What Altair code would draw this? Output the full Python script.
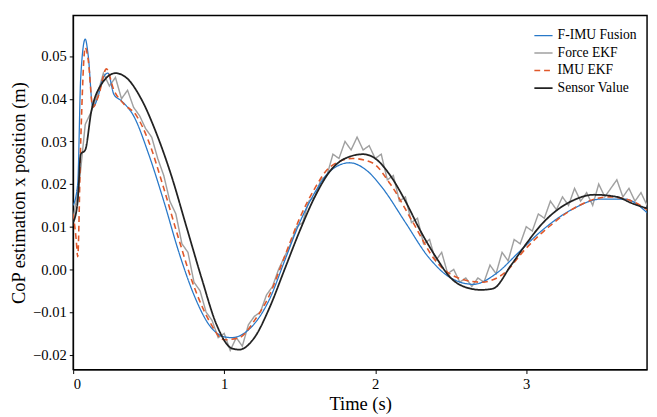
import altair as alt
import pandas as pd

# Sensor value (black)
sensor_t = [0, 0.03, 0.05, 0.08, 0.12, 0.18, 0.28, 0.35, 0.45, 0.55, 0.65, 0.75, 0.85, 0.95, 1.05, 1.1,
            1.2, 1.3, 1.4, 1.5, 1.6, 1.7, 1.8, 1.92, 2.0, 2.1, 2.2, 2.3, 2.4, 2.5, 2.6, 2.7, 2.78, 2.9,
            3.0, 3.1, 3.2, 3.3, 3.45, 3.6, 3.7, 3.8]
sensor_y = [0.011, 0.016, 0.027, 0.028, 0.037, 0.043, 0.046, 0.045, 0.040, 0.032, 0.022, 0.010, -0.002,
            -0.013, -0.0185, -0.0188, -0.016, -0.009, 0.000, 0.009, 0.017, 0.023, 0.026, 0.027, 0.026,
            0.022, 0.016, 0.009, 0.003, -0.002, -0.0042, -0.0048, -0.0045, 0.001, 0.006, 0.0105, 0.0138,
            0.016, 0.0175, 0.017, 0.0155, 0.0143]

# F-IMU Fusion (blue)
fusion_t = [0, 0.03, 0.05, 0.08, 0.1, 0.13, 0.16, 0.2, 0.23, 0.27, 0.32, 0.4, 0.5, 0.6, 0.7, 0.8, 0.9,
            1.0, 1.05, 1.15, 1.3, 1.4, 1.5, 1.6, 1.7, 1.83, 1.95, 2.05, 2.2, 2.35, 2.5, 2.65, 2.8, 2.95,
            3.1, 3.3, 3.5, 3.65, 3.8]
fusion_y = [0.015, 0.020, 0.045, 0.054, 0.050, 0.038, 0.040, 0.045, 0.046, 0.041, 0.0395, 0.036, 0.027,
            0.016, 0.004, -0.006, -0.013, -0.0158, -0.016, -0.0145, -0.007, 0.002, 0.011, 0.018, 0.023,
            0.025, 0.023, 0.019, 0.011, 0.003, -0.002, -0.0035, -0.001, 0.004, 0.009, 0.014, 0.0165,
            0.0165, 0.0133]

# IMU EKF (orange dashed)
imu_t = [0, 0.02, 0.03, 0.05, 0.08, 0.1, 0.13, 0.17, 0.22, 0.27, 0.33, 0.42, 0.5, 0.6, 0.7, 0.8, 0.9,
         1.0, 1.1, 1.2, 1.3, 1.4, 1.5, 1.6, 1.7, 1.85, 1.98, 2.1, 2.25, 2.4, 2.55, 2.7, 2.85, 3.0, 3.15,
         3.35, 3.55, 3.7, 3.8]
imu_y = [0.013, 0.007, 0.003, 0.030, 0.052, 0.049, 0.038, 0.041, 0.047, 0.042, 0.039, 0.036, 0.030,
         0.019, 0.007, -0.004, -0.012, -0.0165, -0.016, -0.012, -0.006, 0.003, 0.012, 0.019, 0.024,
         0.026, 0.025, 0.020, 0.011, 0.002, -0.002, -0.003, -0.001, 0.005, 0.010, 0.015, 0.017,
         0.016, 0.014]

# Force EKF (grey, noisy), sampled every 0.04 s
force_y = [0.012, 0.020, 0.034, 0.037, 0.041, 0.046, 0.043, 0.045, 0.040, 0.042,
           0.038, 0.036, 0.033, 0.031, 0.026, 0.022, 0.016, 0.013, 0.006, 0.004,
           -0.003, -0.005, -0.010, -0.012, -0.016, -0.015, -0.019, -0.016, -0.018, -0.013,
           -0.011, -0.010, -0.006, -0.004, 0.000, 0.003, 0.006, 0.010, 0.011, 0.016,
           0.017, 0.021, 0.022, 0.027, 0.026, 0.030, 0.028, 0.031, 0.028, 0.029,
           0.026, 0.027, 0.021, 0.022, 0.016, 0.017, 0.011, 0.012, 0.006, 0.007,
           0.002, 0.004, -0.001, 0.000, -0.003, -0.002, -0.004, -0.002, -0.003, 0.001,
           -0.001, 0.004, 0.002, 0.007, 0.006, 0.010, 0.009, 0.013, 0.012, 0.016,
           0.014, 0.017, 0.015, 0.019, 0.016, 0.018, 0.015, 0.020, 0.017, 0.019,
           0.021, 0.017, 0.019, 0.016, 0.018, 0.015]
force_t = [round(i * 0.04, 2) for i in range(len(force_y))]

series = ["F-IMU Fusion", "Force EKF", "IMU EKF", "Sensor Value"]
colors = ["#2878c8", "#a0a0a0", "#e0582a", "#222222"]

frames = []
for name, ts, ys in [("F-IMU Fusion", fusion_t, fusion_y), ("Force EKF", force_t, force_y),
                     ("IMU EKF", imu_t, imu_y), ("Sensor Value", sensor_t, sensor_y)]:
    frames.append(pd.DataFrame({"t": ts, "y": ys, "Series": name}))
df = pd.concat(frames)
draw_order = {"Force EKF": 0, "Sensor Value": 1, "F-IMU Fusion": 2, "IMU EKF": 3}
df["order"] = df["Series"].map(draw_order)

font = "Liberation Serif"
x = alt.X("t:Q", title="Time (s)", scale=alt.Scale(domain=[0, 3.8], nice=False),
          axis=alt.Axis(values=[0, 0.5, 1, 1.5, 2, 2.5, 3, 3.5], labelFont=font, titleFont=font,
                        labelExpr="datum.value % 1 == 0 ? datum.label : ''",
                        format="d", grid=False, tickSize=4))
y = alt.Y("y:Q", title="CoP estimation x position (m)",
          scale=alt.Scale(domain=[-0.0235, 0.0595], nice=False),
          axis=alt.Axis(values=[-0.02, -0.01, 0, 0.01, 0.02, 0.03, 0.04, 0.05], format=".2f",
                        labelFont=font, titleFont=font, grid=False, tickSize=4))

enc = dict(
    x=x, y=y,
    color=alt.Color("Series:N", scale=alt.Scale(domain=series, range=colors),
                    legend=alt.Legend(title=None, orient="top-right", symbolType="stroke",
                                      symbolStrokeWidth=2, symbolSize=350, labelFontSize=14,
                                      labelFont=font, rowPadding=0, offset=10)),
    strokeWidth=alt.StrokeWidth("Series:N", scale=alt.Scale(domain=series, range=[1.3, 1.8, 2, 2.5]), legend=None),
    strokeDash=alt.StrokeDash("Series:N", scale=alt.Scale(domain=series, range=[[1, 0], [1, 0], [6, 4], [1, 0]]), legend=None),
    detail="Series:N",
    order="order:Q",
)
base = alt.Chart(df)
noisy = base.mark_line(clip=True).encode(**enc).transform_filter(alt.datum.Series == "Force EKF")
smooth = base.mark_line(clip=True, interpolate="monotone").encode(**enc).transform_filter(alt.datum.Series != "Force EKF")

chart = alt.layer(noisy, smooth).properties(
    width=590, height=364, padding={"left": 2, "top": 2, "right": 2, "bottom": 2}
).configure_view(
    stroke="black", strokeWidth=1.5
).configure_axis(
    labelFont=font, titleFont=font, labelFontSize=15, titleFontSize=19, titleFontWeight="normal",
    labelColor="black", titleColor="black", domainColor="black", tickColor="black", labelPadding=3,
    titlePadding=4
).configure_legend(labelFont=font, labelColor="black")

chart.save("out.html", embed_options={"renderer": "svg", "actions": False})
